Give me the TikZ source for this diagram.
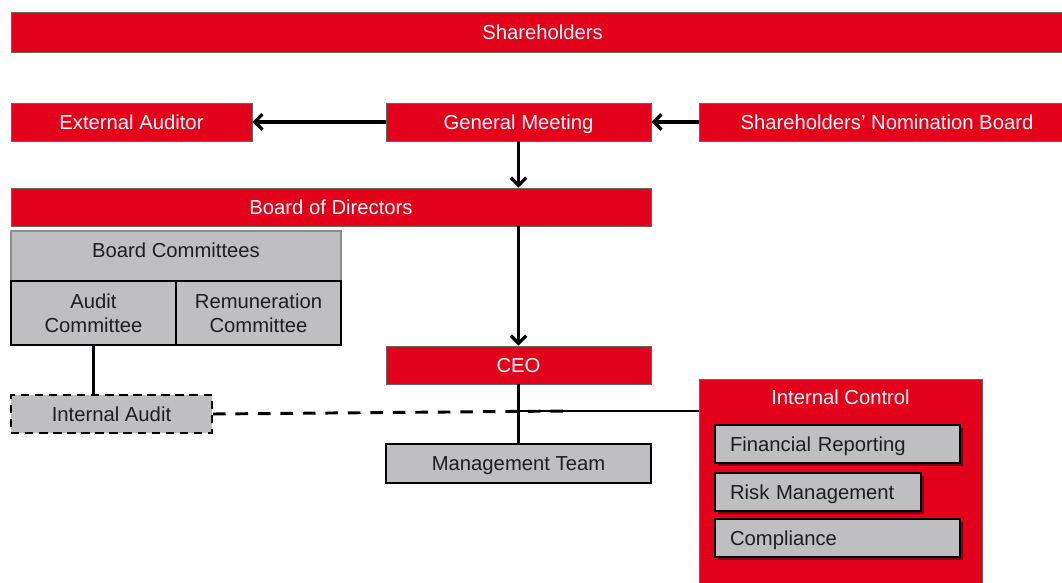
\documentclass[tikz,border=0pt]{standalone}
\usepackage{fontspec}
\setmainfont{Liberation Sans}
\usetikzlibrary{arrows.meta,shadows,calc}
\definecolor{ctred}{HTML}{E2001A}
\definecolor{ctgray}{HTML}{BFBFC1}
\definecolor{cttext}{HTML}{1E1E1E}
\newcommand{\px}{0.025cm}
\tikzset{
  every node/.style={font=\fontsize{14.4pt}{17pt}\selectfont,inner sep=0pt,text height=11pt,text depth=0.7pt},
  redbox/.style={rectangle,fill=ctred,draw=black!60,line width=0.6pt,text=white},
  graybox/.style={rectangle,fill=ctgray,draw=black,line width=1.2pt,text=cttext,align=center},
  twoline/.style={text height=,text depth=},
  subbox/.style={rectangle,fill=ctgray,draw=black,line width=1.6pt,text=cttext,align=left,
    inner xsep=15*\px,minimum height=38*\px,
    drop shadow={shadow xshift=2pt,shadow yshift=-2pt,fill=black,opacity=0.45}},
  arr/.style={line width=2.3pt,-{Straight Barb[length=5.5pt,width=11pt,line width=2.3pt]}},
  conn/.style={line width=2.1pt},
}
\begin{document}
\begin{tikzpicture}[x=\px,y=-\px]
\useasboundingbox (0,0) rectangle (1062,583);

\node[redbox,minimum width=1063*\px,minimum height=40*\px] (sh) at (542.5,32) {Shareholders};
\node[redbox,minimum width=241*\px,minimum height=38*\px] (ea) at (131.5,122) {External Auditor};
\node[redbox,minimum width=265*\px,minimum height=38*\px] (gm) at (518.5,122) {General Meeting};
\node[redbox,minimum width=376*\px,minimum height=38*\px] (snb) at (887,122) {Shareholders’ Nomination Board};
\node[redbox,minimum width=640*\px,minimum height=38*\px] (bod) at (331,207) {Board of Directors};

\node[graybox,draw=black!45,line width=0.8pt,text depth=9.2pt,minimum width=330*\px,minimum height=50*\px] (bc) at (176,256) {Board Committees};
\node[graybox,twoline,minimum width=165*\px,minimum height=64*\px] (ac) at (93.5,313) {Audit\\Committee};
\node[graybox,twoline,minimum width=165*\px,minimum height=64*\px] (rc) at (258.5,313) {Remuneration\\Committee};

\node[redbox,minimum width=265*\px,minimum height=38*\px] (ceo) at (518.5,365) {CEO};
\node[graybox,dash pattern=on 6pt off 4pt,minimum width=201*\px,minimum height=38*\px] (ia) at (111.5,414) {Internal Audit};
\node[graybox,minimum width=265*\px,minimum height=39*\px] (mt) at (518.5,463.5) {Management Team};

\node[redbox,anchor=north,minimum width=283*\px,minimum height=220*\px] (ic) at (840.5,379) {};
\node[text=white,anchor=north] (ict) at ($(ic.north)+(0,10)$) {Internal Control};
\node[subbox,text width=215*\px] (fr) at (837.5,444) {Financial Reporting};
\node[subbox,text width=176*\px] (rm) at (818,492) {Risk Management};
\node[subbox,text width=215*\px] (co) at (837.5,538) {Compliance};

\draw[arr] (gm) -- (ea);
\draw[arr] (snb) -- (gm);
\draw[arr] (gm.south) -- (gm.south |- bod.north);
\draw[arr] (ceo.north |- bod.south) -- (ceo.north);
\draw[conn] (ceo) -- (mt);
\draw[conn] (ac.south) -- (ac.south |- ia.north);
\coordinate (j) at (565,411);
\draw[conn,dash pattern=on 9pt off 7pt] (ia.east) -- (j);
\draw[conn] (ceo.south |- j) -- (ic.west |- j);
\end{tikzpicture}
\end{document}
